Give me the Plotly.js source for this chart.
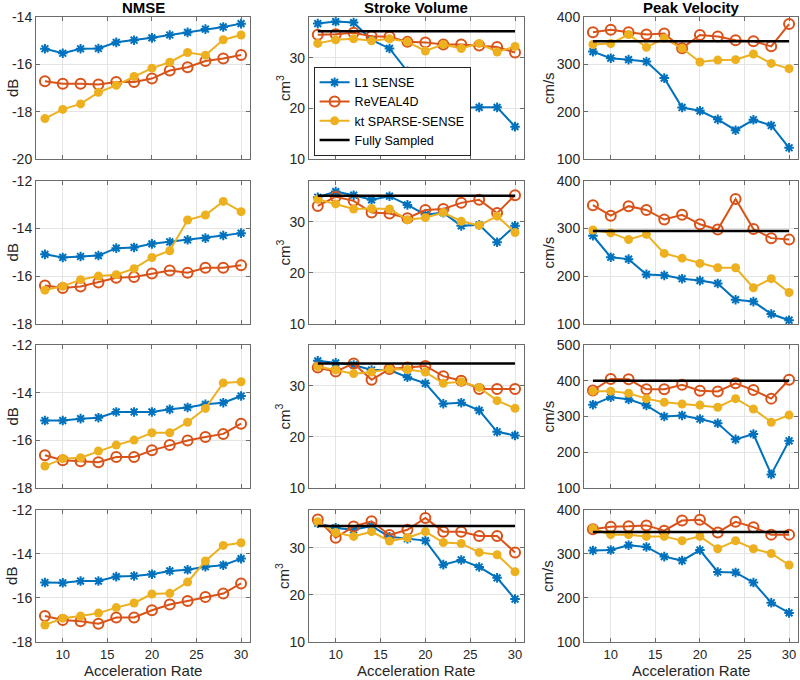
<!DOCTYPE html>
<html>
<head>
<meta charset="utf-8">
<script src="https://cdn.plot.ly/plotly-3.0.1.min.js"></script>
<style>html,body{margin:0;padding:0;background:#fff;}#chart{width:800px;height:680px;}</style>
</head>
<body>
<div id="chart"></div>
<script>
// ---------------- DATA ----------------
const accel = [8, 10, 12, 14, 16, 18, 20, 22, 24, 26, 28, 30];
const seriesNames = ['L1 SENSE', 'ReVEAL4D', 'kt SPARSE-SENSE', 'Fully Sampled'];
const columnTitles = ['NMSE', 'Stroke Volume', 'Peak Velocity'];
const unitLabels = ['dB', 'cm<sup>3</sup>', 'cm/s'];
const xTickVals = [10, 15, 20, 25, 30];

// NMSE (dB), one row per subject
const nmseL1 = [
  [-15.34, -15.53, -15.34, -15.33, -15.07, -14.98, -14.88, -14.76, -14.65, -14.51, -14.42, -14.28],
  [-15.08, -15.21, -15.17, -15.13, -14.82, -14.79, -14.64, -14.56, -14.47, -14.40, -14.29, -14.19],
  [-15.17, -15.17, -15.09, -15.05, -14.81, -14.81, -14.81, -14.70, -14.62, -14.49, -14.42, -14.14],
  [-15.30, -15.31, -15.23, -15.23, -15.03, -15.00, -14.92, -14.77, -14.72, -14.58, -14.51, -14.21]
];
const nmseReveal = [
  [-16.71, -16.82, -16.82, -16.85, -16.74, -16.74, -16.60, -16.26, -16.12, -15.86, -15.75, -15.60],
  [-16.39, -16.49, -16.43, -16.26, -16.06, -16.03, -15.88, -15.76, -15.85, -15.64, -15.64, -15.54],
  [-16.63, -16.84, -16.88, -16.92, -16.70, -16.70, -16.42, -16.20, -16.01, -15.86, -15.73, -15.30],
  [-16.82, -17.00, -17.06, -17.17, -16.89, -16.89, -16.56, -16.30, -16.14, -15.96, -15.80, -15.34]
];
const nmseKt = [
  [-18.29, -17.90, -17.67, -17.18, -16.88, -16.51, -16.16, -15.91, -15.50, -15.61, -14.96, -14.76],
  [-16.58, -16.42, -16.14, -15.99, -15.93, -15.68, -15.21, -14.93, -13.64, -13.43, -12.86, -13.29],
  [-17.08, -16.77, -16.73, -16.45, -16.20, -15.99, -15.68, -15.68, -15.24, -14.66, -13.59, -13.54],
  [-17.23, -16.92, -16.82, -16.69, -16.44, -16.23, -15.82, -15.79, -15.28, -14.32, -13.61, -13.49]
];

// Stroke volume (cm^3)
const svL1 = [
  [36.7, 37.1, 36.9, 33.5, 31.8, 27.3, 24.2, 22.1, 20.1, 20.2, 20.2, 16.4],
  [34.8, 35.9, 35.2, 34.3, 35.0, 33.3, 31.4, 31.8, 29.2, 29.4, 26.0, 29.2],
  [34.9, 34.5, 34.1, 33.1, 33.1, 31.7, 30.5, 26.5, 26.7, 25.2, 21.0, 20.3],
  [35.2, 34.2, 33.8, 34.6, 32.3, 31.9, 31.5, 26.4, 27.4, 25.9, 23.6, 19.1]
];
const svReveal = [
  [34.5, 34.6, 34.9, 34.2, 34.1, 33.1, 33.0, 32.6, 32.6, 32.4, 32.1, 31.0],
  [33.1, 34.9, 34.1, 31.8, 31.6, 30.7, 32.3, 32.5, 33.7, 34.3, 31.7, 35.2],
  [33.6, 32.8, 34.4, 31.2, 33.3, 33.6, 33.9, 31.9, 31.0, 29.4, 29.4, 29.4],
  [36.0, 32.1, 34.5, 35.6, 32.7, 33.8, 36.3, 33.4, 33.4, 32.5, 32.5, 29.0]
];
const svKt = [
  [32.8, 33.5, 33.7, 33.3, 33.7, 33.1, 31.3, 32.6, 31.8, 32.8, 31.1, 32.2],
  [34.4, 33.5, 32.5, 32.6, 32.5, 30.4, 30.8, 31.8, 30.1, 29.3, 31.1, 27.9],
  [33.8, 33.1, 32.4, 32.7, 33.3, 33.2, 32.7, 30.5, 30.8, 29.7, 27.1, 25.6],
  [35.5, 33.2, 32.4, 33.4, 31.4, 32.1, 33.4, 31.1, 30.9, 29.0, 28.5, 24.9]
];
const svFull = [35.2, 35.1, 34.4, 34.6];

// Peak velocity (cm/s)
const pvL1 = [
  [327, 313, 310, 306, 271, 209, 202, 184, 161, 183, 171, 124],
  [285, 240, 236, 204, 202, 195, 191, 185, 151, 147, 121, 108],
  [333, 354, 348, 331, 300, 303, 293, 281, 236, 251, 138, 232],
  [308, 309, 320, 316, 294, 285, 309, 259, 258, 235, 189, 166]
];
const pvReveal = [
  [368, 373, 368, 363, 365, 334, 362, 359, 351, 349, 338, 385],
  [349, 327, 347, 339, 319, 329, 309, 298, 362, 299, 280, 277],
  [373, 405, 404, 376, 376, 389, 372, 370, 393, 374, 350, 403],
  [356, 362, 363, 365, 353, 376, 378, 349, 373, 361, 344, 344]
];
const pvKt = [
  [342, 344, 363, 336, 355, 334, 305, 309, 310, 322, 302, 291],
  [297, 291, 277, 288, 248, 238, 227, 218, 218, 176, 195, 166],
  [371, 371, 365, 350, 340, 335, 332, 326, 350, 321, 284, 304],
  [358, 344, 344, 340, 340, 330, 340, 312, 330, 312, 301, 275]
];
const pvFull = [349, 295, 400, 350];

// y-axis ranges and ticks per panel
const nmseRanges = [[-20, -14], [-18, -12], [-18, -12], [-18, -12]];
const nmseTicks = [[-20, -18, -16, -14], [-18, -16, -14, -12], [-18, -16, -14, -12], [-18, -16, -14, -12]];
const svRange = [10, 38];
const svTicks = [10, 20, 30];
const pvRanges = [[100, 400], [100, 400], [100, 500], [100, 400]];
const pvTicks = [[100, 200, 300, 400], [100, 200, 300, 400], [100, 200, 300, 400, 500], [100, 200, 300, 400]];

// ---------------- STYLE ----------------
const colors = ['#0072BD', '#D95319', '#EDB120', '#000000'];
const FONT = 'Liberation Sans, Arial, Helvetica, sans-serif';
const xDomains = [[0.045, 0.3125], [0.386, 0.655], [0.73, 0.9975]];
const yDomains = [[0.766, 0.975], [0.5235, 0.734], [0.2824, 0.4926], [0.056, 0.25]];

const traces = [];
const layout = {
  width: 800, height: 680,
  margin: {l: 0, r: 0, t: 0, b: 0},
  paper_bgcolor: '#ffffff', plot_bgcolor: '#ffffff',
  font: {family: FONT, size: 13, color: '#262626'},
  showlegend: true,
  legend: {
    x: 0.392, y: 0.771, xanchor: 'left', yanchor: 'bottom',
    bgcolor: '#ffffff', bordercolor: '#262626', borderwidth: 1,
    font: {family: FONT, size: 12.5, color: '#000'},
    tracegroupgap: 0, itemwidth: 30
  },
  annotations: [],
  hovermode: false
};

function fmt(v) { return String(v); } // hyphen-minus like MATLAB

for (let r = 0; r < 4; r++) {
  for (let c = 0; c < 3; c++) {
    const n = r * 3 + c + 1;
    const xa = n === 1 ? 'x' : 'x' + n;
    const ya = n === 1 ? 'y' : 'y' + n;
    let L1, RV, KT, full = null, yr, yt;
    if (c === 0) { L1 = nmseL1[r]; RV = nmseReveal[r]; KT = nmseKt[r]; yr = nmseRanges[r]; yt = nmseTicks[r]; }
    else if (c === 1) { L1 = svL1[r]; RV = svReveal[r]; KT = svKt[r]; full = svFull[r]; yr = svRange; yt = svTicks; }
    else { L1 = pvL1[r]; RV = pvReveal[r]; KT = pvKt[r]; full = pvFull[r]; yr = pvRanges[r]; yt = pvTicks[r]; }
    const leg = (r === 0 && c === 1);
    traces.push({x: accel, y: L1, xaxis: xa, yaxis: ya, type: 'scatter', mode: 'lines+markers',
      name: seriesNames[0], showlegend: leg, legendrank: 1,
      line: {color: colors[0], width: 2},
      marker: {symbol: 'asterisk-open', size: 8, color: colors[0], line: {color: colors[0], width: 2}}});
    traces.push({x: accel, y: RV, xaxis: xa, yaxis: ya, type: 'scatter', mode: 'lines+markers',
      name: seriesNames[1], showlegend: leg, legendrank: 2,
      line: {color: colors[1], width: 2},
      marker: {symbol: 'circle-open', size: 10, color: colors[1], line: {color: colors[1], width: 2}}});
    traces.push({x: accel, y: KT, xaxis: xa, yaxis: ya, type: 'scatter', mode: 'lines+markers',
      name: seriesNames[2], showlegend: leg, legendrank: 3,
      line: {color: colors[2], width: 2},
      marker: {symbol: 'circle', size: 9, color: colors[2]}});
    if (full !== null) {
      traces.push({x: [accel[0], accel[accel.length - 1]], y: [full, full], xaxis: xa, yaxis: ya,
        type: 'scatter', mode: 'lines', name: seriesNames[3], showlegend: leg, legendrank: 4,
        line: {color: colors[3], width: 2.5}});
    }
    const axBase = {
      showline: true, mirror: 'ticks', linecolor: '#6b6b6b', linewidth: 1,
      ticks: 'inside', ticklen: 4, tickcolor: '#6b6b6b',
      showgrid: true, gridcolor: '#e4e4e4', gridwidth: 1, zeroline: false,
      tickfont: {family: FONT, size: 13, color: '#262626'}, automargin: false, fixedrange: true
    };
    layout['xaxis' + (n === 1 ? '' : n)] = Object.assign({}, axBase, {
      domain: xDomains[c], anchor: ya, range: [7, 31],
      tickmode: 'array', tickvals: xTickVals, ticktext: xTickVals.map(fmt),
      showticklabels: r === 3,
      tickfont: {family: FONT, size: 13, color: '#262626'}
    });
    layout['yaxis' + (n === 1 ? '' : n)] = Object.assign({}, axBase, {
      domain: yDomains[r], anchor: xa, range: yr,
      tickmode: 'array', tickvals: yt, ticktext: yt.map(fmt), tickfont: {family: FONT, size: 14, color: '#262626'}
    });
    // y axis label
    const yMid = (yDomains[r][0] + yDomains[r][1]) / 2;
    const labX = [12 / 800, 283 / 800, 548 / 800][c];
    layout.annotations.push({text: unitLabels[c], xref: 'paper', yref: 'paper', x: labX, y: yMid,
      xanchor: 'center', yanchor: 'middle', textangle: -90, showarrow: false,
      font: {family: FONT, size: 15, color: '#262626'}});
  }
}
for (let c = 0; c < 3; c++) {
  const cx = (xDomains[c][0] + xDomains[c][1]) / 2;
  layout.annotations.push({text: '<b>' + columnTitles[c] + '</b>', xref: 'paper', yref: 'paper',
    x: cx, y: 1 - 8 / 680, xanchor: 'center', yanchor: 'middle', showarrow: false,
    font: {family: FONT, size: 15, color: '#000'}});
  layout.annotations.push({text: 'Acceleration Rate', xref: 'paper', yref: 'paper',
    x: cx, y: 0, xanchor: 'center', yanchor: 'bottom', showarrow: false, borderpad: 0,
    font: {family: FONT, size: 15, color: '#262626'}});
}

Plotly.newPlot('chart', traces, layout, {displayModeBar: false, staticPlot: true});
</script>
</body>
</html>
